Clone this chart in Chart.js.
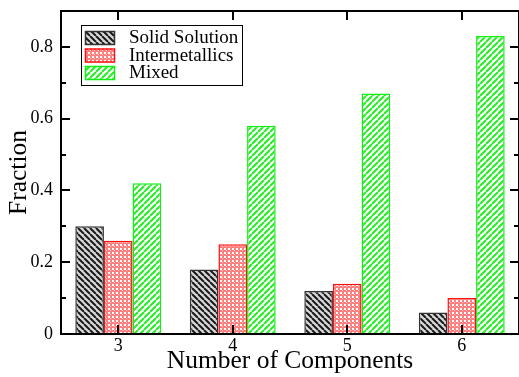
<!DOCTYPE html>
<html>
<head>
<meta charset="utf-8">
<script src="https://cdn.jsdelivr.net/npm/chart.js@4.4.0/dist/chart.umd.min.js"></script>
<style>
  html, body { margin: 0; padding: 0; background: #fff; }
  #wrap { width: 519px; height: 377px; position: relative; }
</style>
</head>
<body>
<div id="wrap"><canvas id="fracChart"></canvas></div>
<script>
// Data
const components = ['3', '4', '5', '6'];
const solidSolution = [0.30, 0.18, 0.12, 0.06];
const intermetallics = [0.26, 0.25, 0.14, 0.10];
const mixed = [0.42, 0.58, 0.67, 0.83];
const seriesNames = ['Solid Solution', 'Intermetallics', 'Mixed'];

const SERIF = '"Liberation Serif", "DejaVu Serif", serif';

// Fill patterns
function stripes(color, bg, dir) {
  const s = 6;
  const c = document.createElement('canvas');
  c.width = c.height = s;
  const g = c.getContext('2d');
  g.fillStyle = bg;
  g.fillRect(0, 0, s, s);
  g.strokeStyle = color;
  g.lineWidth = 2;
  g.beginPath();
  for (const o of [-s, 0, s]) {
    if (dir === '/') {
      g.moveTo(o, s);
      g.lineTo(o + s, 0);
    } else {
      g.moveTo(o, 0);
      g.lineTo(o + s, s);
    }
  }
  g.stroke();
  return g.createPattern(c, 'repeat');
}

function checks() {
  const c = document.createElement('canvas');
  c.width = c.height = 4;
  const g = c.getContext('2d');
  g.fillStyle = '#ff7f7f';
  g.fillRect(0, 0, 4, 4);
  g.fillStyle = '#ffffff';
  g.fillRect(0, 0, 2, 2);
  g.fillStyle = '#ffd0d0';
  g.fillRect(2, 2, 1, 1);
  return g.createPattern(c, 'repeat');
}

const fills = [stripes('#1a1a1a', '#d8d8d8', '\\'), checks(), stripes('#22ee22', '#ffffff', '/')];
const borders = ['#333333', '#ff1010', '#11ee11'];

// frame, ticks on all four sides, and the boxed legend
const framePlugin = {
  id: 'frame',
  afterDraw(chart) {
    const { ctx, chartArea: a, scales } = chart;
    const y = scales.y, x = scales.x;
    ctx.save();
    ctx.strokeStyle = '#000';
    ctx.lineWidth = 2;
    ctx.strokeRect(a.left, a.top, a.right - a.left, a.bottom - a.top);
    ctx.beginPath();
    for (let v = 0.1; v < 0.9; v += 0.1) {
      const py = Math.round(y.getPixelForValue(v));
      const major = Math.round(v * 10) % 2 === 0;
      const len = major ? 9 : 5;
      ctx.moveTo(a.left, py); ctx.lineTo(a.left + len, py);
      ctx.moveTo(a.right, py); ctx.lineTo(a.right - len, py);
    }
    components.forEach((c, i) => {
      const px = Math.round(x.getPixelForValue(i));
      ctx.moveTo(px, a.bottom); ctx.lineTo(px, a.bottom - 9);
      ctx.moveTo(px, a.top); ctx.lineTo(px, a.top + 9);
    });
    ctx.stroke();

    // legend
    const lx = 81, ly = 25, lw = 161, lh = 60;
    ctx.fillStyle = '#fff';
    ctx.fillRect(lx, ly, lw, lh);
    ctx.lineWidth = 1;
    ctx.strokeRect(lx + 0.5, ly + 0.5, lw, lh);
    ctx.font = '19px ' + SERIF;
    ctx.textBaseline = 'middle';
    chart.data.datasets.forEach((ds, i) => {
      const ry = 31 + i * 17.5;
      ctx.fillStyle = ds.backgroundColor;
      ctx.fillRect(85, ry, 30, 14);
      ctx.strokeStyle = ds.borderColor;
      ctx.lineWidth = 1.5;
      ctx.strokeRect(85.5, ry + 0.5, 29, 13);
      ctx.fillStyle = '#000';
      ctx.fillText(ds.label, 129, ry + 7.5);
    });
    ctx.restore();
  }
};

new Chart(document.getElementById('fracChart'), {
  type: 'bar',
  data: {
    labels: components,
    datasets: [solidSolution, intermetallics, mixed].map((d, i) => ({
      label: seriesNames[i],
      data: d,
      backgroundColor: fills[i],
      borderColor: borders[i],
      borderWidth: 1.5,
      borderSkipped: 'bottom',
      categoryPercentage: 0.75,
      barPercentage: 1.0
    }))
  },
  options: {
    responsive: true,
    maintainAspectRatio: false,
    animation: false,
    layout: { padding: { top: 11, right: 0, left: 4, bottom: 0 } },
    plugins: { legend: { display: false }, tooltip: { enabled: false } },
    scales: {
      x: {
        grid: { display: false, drawTicks: false },
        border: { display: false },
        ticks: { color: '#000', font: { family: SERIF, size: 18 }, padding: 1 },
        title: { display: true, text: 'Number of Components', color: '#000', font: { family: SERIF, size: 25.5 }, padding: { top: 4, bottom: 0 } },
        afterFit(s) { s.height = 43; s.paddingLeft = 0; s.paddingRight = 0; }
      },
      y: {
        min: 0,
        max: 0.9,
        grid: { display: false, drawTicks: false },
        border: { display: false },
        ticks: { stepSize: 0.2, color: '#000', font: { family: SERIF, size: 18 }, padding: 8 },
        afterBuildTicks(s) { s.ticks = s.ticks.filter(t => Math.round(t.value * 10) % 2 === 0); },
        title: { display: true, text: 'Fraction', color: '#000', font: { family: SERIF, size: 25.5 }, padding: { top: 0, bottom: 0 } },
        afterFit(s) { s.width = 57; s.paddingTop = 0; s.paddingBottom = 0; }
      }
    }
  },
  plugins: [framePlugin]
});
</script>
</body>
</html>
